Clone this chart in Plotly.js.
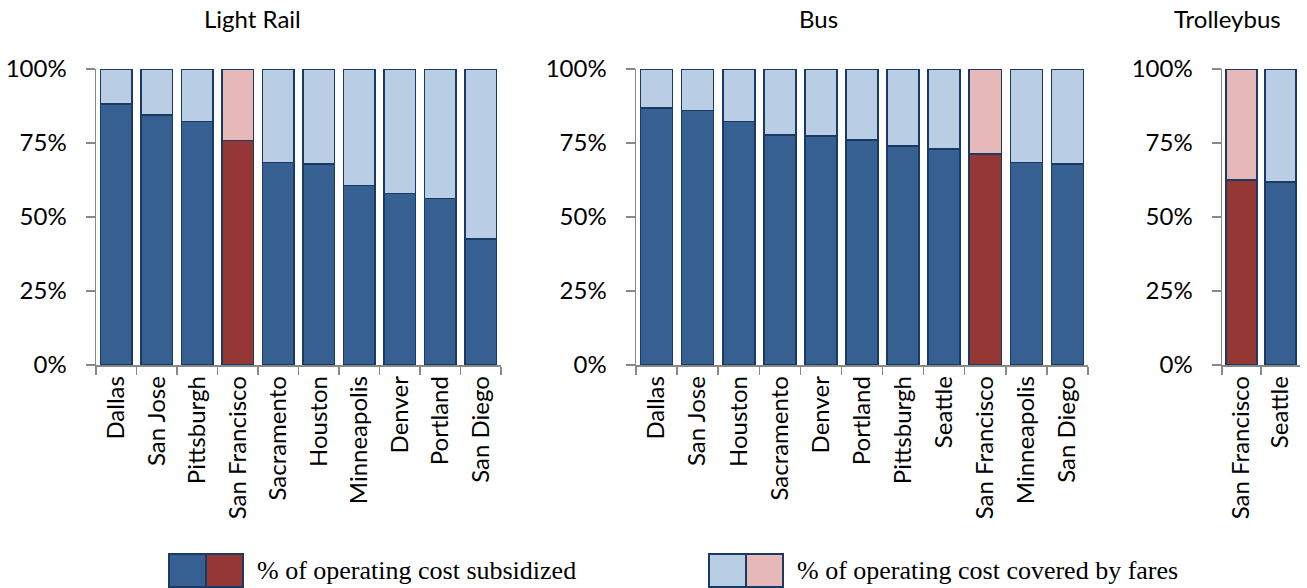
<!DOCTYPE html>
<html>
<head>
<meta charset="utf-8">
<script src="https://cdn.plot.ly/plotly-3.0.1.min.js"></script>
<style>
  html, body { margin: 0; padding: 0; background: #ffffff; }
  #chart { width: 1307px; height: 588px; }
</style>
</head>
<body>
<div id="chart"></div>
<script>
// ---- Data ----
const lightRailCities = ["Dallas", "San Jose", "Pittsburgh", "San Francisco", "Sacramento", "Houston", "Minneapolis", "Denver", "Portland", "San Diego"];
const lightRailSubsidized = [0.882, 0.845, 0.822, 0.759, 0.684, 0.679, 0.607, 0.580, 0.563, 0.426];
const lightRailFares      = [0.118, 0.155, 0.178, 0.241, 0.316, 0.321, 0.393, 0.420, 0.437, 0.574];

const busCities = ["Dallas", "San Jose", "Houston", "Sacramento", "Denver", "Portland", "Pittsburgh", "Seattle", "San Francisco", "Minneapolis", "San Diego"];
const busSubsidized = [0.869, 0.860, 0.822, 0.777, 0.773, 0.761, 0.740, 0.730, 0.712, 0.684, 0.679];
const busFares      = [0.131, 0.140, 0.178, 0.223, 0.227, 0.239, 0.260, 0.270, 0.288, 0.316, 0.321];

const trolleyCities = ["San Francisco", "Seattle"];
const trolleySubsidized = [0.625, 0.619];
const trolleyFares      = [0.375, 0.381];

const panelTitles = ["Light Rail", "Bus", "Trolleybus"];
const yTickVals = [0, 0.25, 0.5, 0.75, 1];
const yTickText = ["0%", "25%", "50%", "75%", "100%"];
const legendLabels = ["% of operating cost subsidized", "% of operating cost covered by fares"];
const highlightCity = "San Francisco";

// ---- Style ----
const W = 1307, H = 588;
const C = {
  subsidized: "#366092", subsidizedHi: "#953735",
  fares: "#B9CDE5", faresHi: "#E6B9B8",
  outline: "#1B3A63", axis: "#888888"
};
const FONT = "Lato, 'Open Sans', sans-serif";
const SERIF = "'Liberation Serif', 'Times New Roman', serif";
const px = x => x / W;
const py = y => 1 - y / H;

function panelTraces(cities, sub, fare, xa, ya) {
  const subCol = cities.map(c => c === highlightCity ? C.subsidizedHi : C.subsidized);
  const fareCol = cities.map(c => c === highlightCity ? C.faresHi : C.fares);
  return [
    { type: "bar", x: cities, y: sub, xaxis: xa, yaxis: ya, showlegend: false, hoverinfo: "skip",
      marker: { color: subCol, line: { color: C.outline, width: 1.6 } } },
    { type: "bar", x: cities, y: fare, xaxis: xa, yaxis: ya, showlegend: false, hoverinfo: "skip",
      marker: { color: fareCol, line: { color: C.outline, width: 1.6 } } }
  ];
}

const data = [
  ...panelTraces(lightRailCities, lightRailSubsidized, lightRailFares, "x", "y"),
  ...panelTraces(busCities, busSubsidized, busFares, "x2", "y2"),
  ...panelTraces(trolleyCities, trolleySubsidized, trolleyFares, "x3", "y3")
];

function xAxis(domain, anchor) {
  return {
    domain: domain, anchor: anchor, type: "category",
    showline: true, linecolor: C.axis, linewidth: 1.5,
    ticks: "outside", tickson: "boundaries", ticklen: 8, tickcolor: C.axis, tickwidth: 1.5,
    tickangle: -90, tickfont: { family: FONT, size: 24, color: "#000" },
    showgrid: false, zeroline: false, fixedrange: true
  };
}
function yAxis(domain, anchor) {
  return {
    domain: domain, anchor: anchor, range: [0, 1],
    tickvals: yTickVals, ticktext: yTickText,
    showline: true, linecolor: C.axis, linewidth: 1.5,
    ticks: "outside", ticklen: 9, tickcolor: C.axis, tickwidth: 1.5,
    ticklabelstandoff: 14,
    tickfont: { family: FONT, size: 24, color: "#000" },
    showgrid: false, zeroline: false, fixedrange: true
  };
}

const yDom = [py(365), py(69)];
const titleX = [252, 818, 1227];

const annotations = panelTitles.map((t, i) => ({
  text: t, xref: "paper", yref: "paper", x: px(titleX[i]), y: py(19),
  xanchor: "center", yanchor: "middle", showarrow: false,
  font: { family: FONT, size: 24, color: "#000" }
}));
annotations.push(
  { text: legendLabels[0], xref: "paper", yref: "paper", x: px(255), y: py(570),
    xanchor: "left", yanchor: "middle", showarrow: false,
    font: { family: SERIF, size: 26, color: "#000" } },
  { text: legendLabels[1], xref: "paper", yref: "paper", x: px(795), y: py(570),
    xanchor: "left", yanchor: "middle", showarrow: false,
    font: { family: SERIF, size: 26, color: "#000" } }
);

function legendBox(x0, leftCol, rightCol) {
  const w = 74, y0 = 554, y1 = 587, mid = x0 + w / 2;
  return [
    { type: "rect", xref: "paper", yref: "paper", x0: px(x0), x1: px(mid), y0: py(y1), y1: py(y0),
      fillcolor: leftCol, line: { color: C.outline, width: 2 } },
    { type: "rect", xref: "paper", yref: "paper", x0: px(mid), x1: px(x0 + w), y0: py(y1), y1: py(y0),
      fillcolor: rightCol, line: { color: C.outline, width: 2 } }
  ];
}

const layout = {
  width: W, height: H,
  margin: { l: 0, r: 0, t: 0, b: 0 },
  paper_bgcolor: "#ffffff", plot_bgcolor: "#ffffff",
  barmode: "stack", bargap: 0.22,
  showlegend: false,
  xaxis: xAxis([px(96), px(501)], "y"),
  yaxis: yAxis(yDom, "x"),
  xaxis2: xAxis([px(636), px(1088)], "y2"),
  yaxis2: yAxis(yDom, "x2"),
  xaxis3: xAxis([px(1222), px(1300)], "y3"),
  yaxis3: yAxis(yDom, "x3"),
  annotations: annotations,
  shapes: [
    ...legendBox(169, C.subsidized, C.subsidizedHi),
    ...legendBox(709, C.fares, C.faresHi)
  ]
};

Plotly.newPlot("chart", data, layout, { displayModeBar: false, staticPlot: true });
</script>
</body>
</html>
